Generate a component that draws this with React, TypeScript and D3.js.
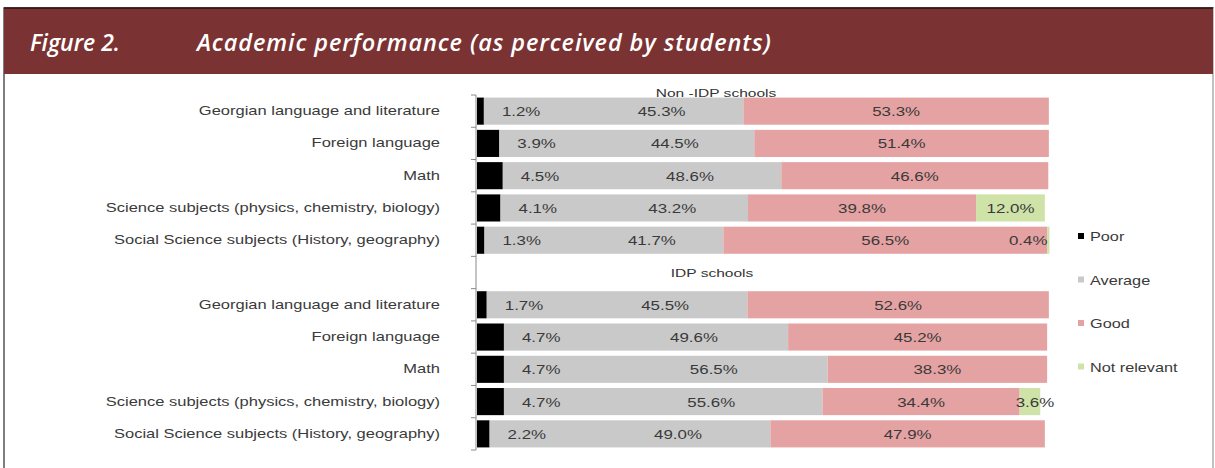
import React from "react";
import * as d3 from "d3";

const subjects = [
  "Georgian language and literature",
  "Foreign language",
  "Math",
  "Science subjects (physics, chemistry, biology)",
  "Social Science subjects (History, geography)",
];
const groups = ["Non -IDP schools", "IDP schools"];
const seriesNames = ["Poor", "Average", "Good", "Not relevant"];

const nonIdpPoor = [1.2, 3.9, 4.5, 4.1, 1.3];
const nonIdpAverage = [45.3, 44.5, 48.6, 43.2, 41.7];
const nonIdpGood = [53.3, 51.4, 46.6, 39.8, 56.5];
const nonIdpNotRelevant = [0, 0, 0, 12.0, 0.4];

const idpPoor = [1.7, 4.7, 4.7, 4.7, 2.2];
const idpAverage = [45.5, 49.6, 56.5, 55.6, 49.0];
const idpGood = [52.6, 45.2, 38.3, 34.4, 47.9];
const idpNotRelevant = [0, 0, 0, 3.6, 0];

const colors = ["#000000", "#c9c9c9", "#e5a2a2", "#cfe2a8"];
const W = 1215;
const H = 468;
const FONT = "'Liberation Sans', Arial, sans-serif";

type Row = { key: string; label: string; values: number[] };

const rows: Row[] = [
  ...subjects.map((s, i) => ({
    key: "n" + i,
    label: s,
    values: [nonIdpPoor[i], nonIdpAverage[i], nonIdpGood[i], nonIdpNotRelevant[i]],
  })),
  ...subjects.map((s, i) => ({
    key: "i" + i,
    label: s,
    values: [idpPoor[i], idpAverage[i], idpGood[i], idpNotRelevant[i]],
  })),
];
// the blank slot between the two groups
const slotKeys = [...rows.slice(0, 5).map((r) => r.key), "gap", ...rows.slice(5).map((r) => r.key)];

// the source image is stretched sideways, so text gets a horizontal scale
const Wide = ({ x, y, anchor = "start", size = 13, sx = 1.3, fill = "#3a3a3a", children }: any) => (
  <text
    transform={`translate(${x},${y}) scale(${sx},1)`}
    textAnchor={anchor}
    fontFamily={FONT}
    fontSize={size}
    fill={fill}
  >
    {children}
  </text>
);

export default function App() {
  const x = d3.scaleLinear().domain([0, 100]).range([477, 1050]);
  const y = d3.scaleBand().domain(slotKeys).range([95, 450]).paddingInner(0.16).paddingOuter(0.08);
  const step = y.step();
  const half = (step * 0.16) / 2;

  const stacked = rows.map((r) => {
    let acc = 0;
    return r.values.map((v) => {
      const seg = { x0: acc, x1: acc + v, v };
      acc += v;
      return seg;
    });
  });

  const fmt = (v: number) => v.toFixed(1) + "%";

  return (
    <svg width={W} height={H} style={{ position: "absolute", left: 0, top: 0 }}>
      <rect x={0} y={0} width={W} height={H} fill="#ffffff" />
      {/* frame */}
      <rect x={4} y={8} width={1209} height={H} fill="none" stroke="#555" strokeWidth={1.5} />
      <line x1={1213} y1={8} x2={1213} y2={H} stroke="#d8d8d8" strokeWidth={1.5} />
      <rect x={4} y={8} width={1209} height={66} fill="#7b3232" />
      <line x1={4} y1={8} x2={1213} y2={8} stroke="#2a1010" strokeWidth={1.5} />
      <text x={30} y={51} fill="#ffffff" fontFamily="'Open Sans', sans-serif" fontStyle="italic" fontWeight={600} fontSize={23}>
        Figure 2.
      </text>
      <text x={197} y={51} fill="#ffffff" fontFamily="'Open Sans', sans-serif" fontStyle="italic" fontWeight={600} fontSize={23.5} letterSpacing={0.9}>
        Academic performance (as perceived by students)
      </text>

      {/* axis */}
      <line x1={476} x2={476} y1={95} y2={450} stroke="#8a8a8a" strokeWidth={1} />
      {slotKeys.map((k, i) => (
        <line key={"t" + i} x1={471} x2={476} y1={y(k)! - half} y2={y(k)! - half} stroke="#8a8a8a" />
      ))}
      <line x1={471} x2={476} y1={450} y2={450} stroke="#8a8a8a" />

      {/* group titles */}
      <Wide x={716} y={y("n0")! - 1} anchor="middle" size={11.5} sx={1.35} fill="#333">
        {groups[0]}
      </Wide>
      <Wide x={712} y={y("gap")! + step / 2 + 2} anchor="middle" size={11.5} sx={1.35} fill="#333">
        {groups[1]}
      </Wide>

      {rows.map((r, ri) => {
        const y0 = y(r.key)!;
        const bw = y.bandwidth();
        const cy = y0 + bw / 2 + 5;
        const segs = stacked[ri];
        return (
          <g key={r.key}>
            <Wide x={440} y={cy - 1} anchor="end" size={13} sx={1.27}>
              {r.label}
            </Wide>
            {segs.map((s, si) =>
              s.v > 0 ? (
                <rect key={si} x={x(s.x0)} y={y0} width={x(s.x1) - x(s.x0)} height={bw} fill={colors[si]} />
              ) : null
            )}
            {/* Poor label, placed just after the black bar */}
            <Wide x={x(segs[0].x1) + 18} y={cy}>
              {fmt(segs[0].v)}
            </Wide>
            <Wide x={(x(segs[1].x0) + x(segs[1].x1)) / 2 + 48} y={cy} anchor="middle">
              {fmt(segs[1].v)}
            </Wide>
            <Wide x={(x(segs[2].x0) + x(segs[2].x1)) / 2} y={cy} anchor="middle">
              {fmt(segs[2].v)}
            </Wide>
            {segs[3].v > 0 ? (
              segs[3].v < 2 ? (
                <Wide x={x(segs[3].x1) - 2} y={cy} anchor="end">
                  {fmt(segs[3].v)}
                </Wide>
              ) : (
                <Wide x={(x(segs[3].x0) + x(segs[3].x1)) / 2 + (segs[3].v < 5 ? 5 : 0)} y={cy} anchor="middle">
                  {fmt(segs[3].v)}
                </Wide>
              )
            ) : null}
          </g>
        );
      })}

      {/* legend */}
      {seriesNames.map((n, i) => (
        <g key={n} transform={`translate(1078, ${237 + i * 43.5})`}>
          <rect x={0} y={-4} width={6} height={6} fill={colors[i]} />
          <Wide x={12} y={4} sx={1.25}>
            {n}
          </Wide>
        </g>
      ))}
    </svg>
  );
}
